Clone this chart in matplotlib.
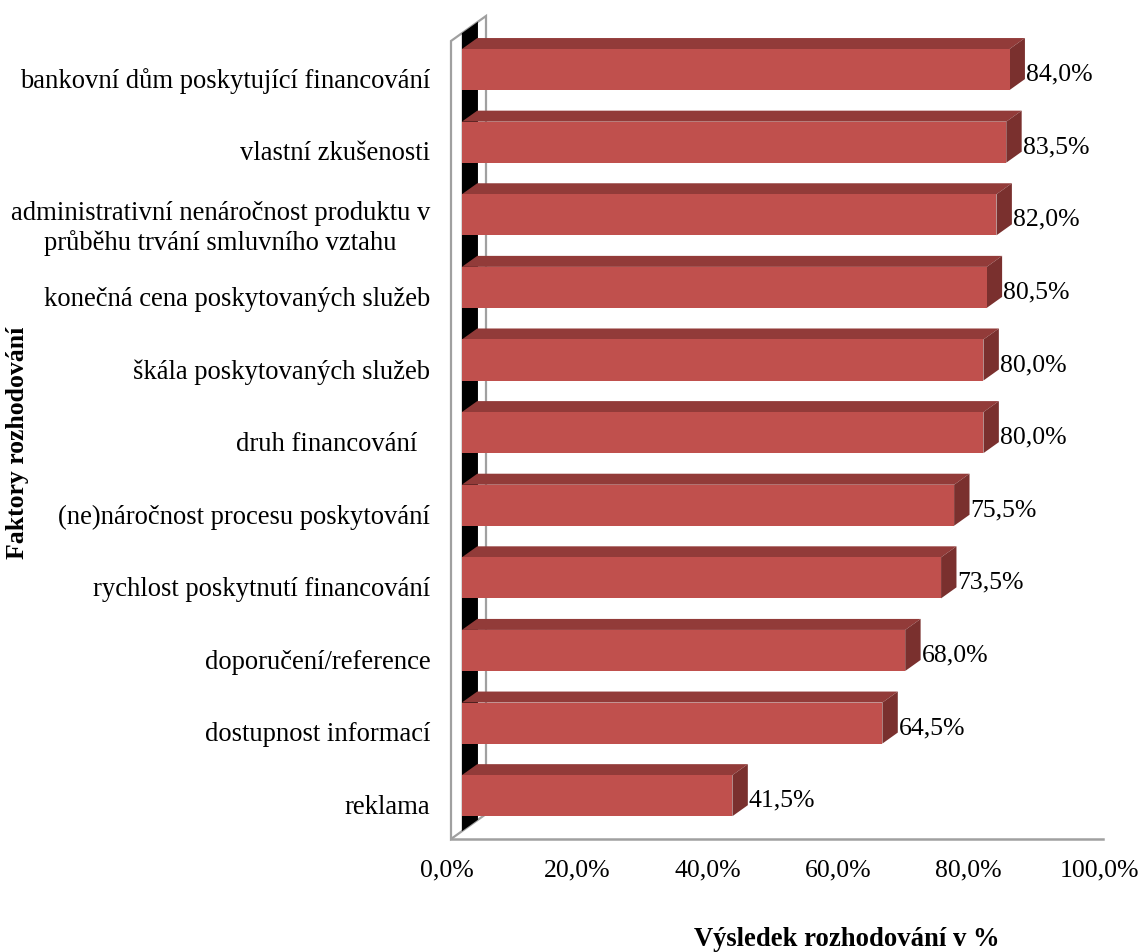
import matplotlib
matplotlib.use("Agg")
import matplotlib.pyplot as plt
from matplotlib.patches import Polygon
from matplotlib.transforms import ScaledTranslation

plt.rcParams['font.family'] = ['Liberation Serif', 'DejaVu Serif']

# Factors, listed from top to bottom
categories = [
    "bankovní dům poskytující financování",
    "vlastní zkušenosti",
    "administrativní nenáročnost produktu v\nprůběhu trvání smluvního vztahu",
    "konečná cena poskytovaných služeb",
    "škála poskytovaných služeb",
    "druh financování  ",
    "(ne)náročnost procesu poskytování",
    "rychlost poskytnutí financování",
    "doporučení/reference",
    "dostupnost informací",
    "reklama",
]
values = [84.0, 83.5, 82.0, 80.5, 80.0, 80.0, 75.5, 73.5, 68.0, 64.5, 41.5]
xticks = [0, 20, 40, 60, 80, 100]
xtick_labels = ["0,0%", "20,0%", "40,0%", "60,0%", "80,0%", "100,0%"]

W, H = 1145, 953
DPI = 100
fig = plt.figure(figsize=(W / DPI, H / DPI), dpi=DPI)
ax = fig.add_axes([451 / W, (H - 840) / H, (1103 - 451) / W, (840 - 42) / H])
ax.set_xlim(0, 100)
ax.set_ylim(-0.49, 10.5)
for s in ax.spines.values():
    s.set_visible(False)

FRONT = "#C0504D"
TOP = "#923B39"
SIDE = "#7A302E"
GRID = "#A0A0A0"

# depth of the 3-D box in pixels
DX, DY = 35, 25
F1, F2 = 0.31, 0.75   # bar front / back depth fractions
BAR_H = 0.565

def at(x, y, f):
    d = ax.transData.transform((x, y))
    d = (d[0] + DX * f, d[1] + DY * f)
    return ax.transData.inverted().transform(d)

def poly(pts, **kw):
    p = Polygon([at(*q) for q in pts], closed=True, clip_on=False, **kw)
    ax.add_patch(p)
    return p

y0, y1 = ax.get_ylim()

# side wall and floor outline
poly([(0, y0, 0), (0, y1, 0), (0, y1, 1), (0, y0, 1)],
     facecolor="white", edgecolor=GRID, linewidth=1.6, zorder=1)
poly([(0, y0, F1), (0, y1, F1), (0, y1, F2 + 0.02), (0, y0, F2 + 0.02)],
     facecolor="black", edgecolor="none", zorder=1.5)
p0, p1 = at(0, y0, 0), at(100, y0, 0)
ax.plot([p0[0], p1[0]], [p0[1], p1[1]], color=GRID, lw=1.8, clip_on=False, zorder=1)

n = len(categories)
ypos = [n - 1 - i for i in range(n)]

off = ScaledTranslation(DX * F1 / DPI, DY * F1 / DPI, fig.dpi_scale_trans)
ax.barh(ypos, values, height=BAR_H, color=FRONT, edgecolor="none",
        transform=ax.transData + off, clip_on=False, zorder=3)

for k, v in zip(ypos, values):
    top, bot = k + BAR_H / 2, k - BAR_H / 2
    poly([(0, top, F1), (v, top, F1), (v, top, F2), (0, top, F2)],
         facecolor=TOP, edgecolor="none", zorder=2)
    poly([(v, bot, F1), (v, top, F1), (v, top, F2), (v, bot, F2)],
         facecolor=SIDE, edgecolor="none", zorder=2)
    ax.annotate(f"{v:.1f}".replace(".", ",") + "%", xy=(v, k),
                xytext=(DX * F2 + 1, DY * F1 - 4), textcoords="offset pixels",
                ha="left", va="center", fontsize=18.5, zorder=4)

ax.set_yticks(ypos)
ax.set_yticklabels(categories, fontsize=19.2, multialignment="center")
ax.tick_params(axis="y", length=0, pad=15)
ax.set_xticks(xticks)
ax.set_xticklabels(xtick_labels, fontsize=18.5)
ax.tick_params(axis="x", length=0, pad=14)
for lab in ax.get_xticklabels():
    lab.set_transform(lab.get_transform() + ScaledTranslation(-4 / DPI, 0, fig.dpi_scale_trans))

fig.text(847 / W, 1 - 940 / H, "Výsledek rozhodování v %", ha="center", va="center",
         fontsize=19.2, fontweight="bold")
fig.text(18 / W, 1 - 443 / H, "Faktory rozhodování", ha="center", va="center",
         rotation=90, fontsize=18.5, fontweight="bold")

fig.savefig("out.png", dpi=DPI)
